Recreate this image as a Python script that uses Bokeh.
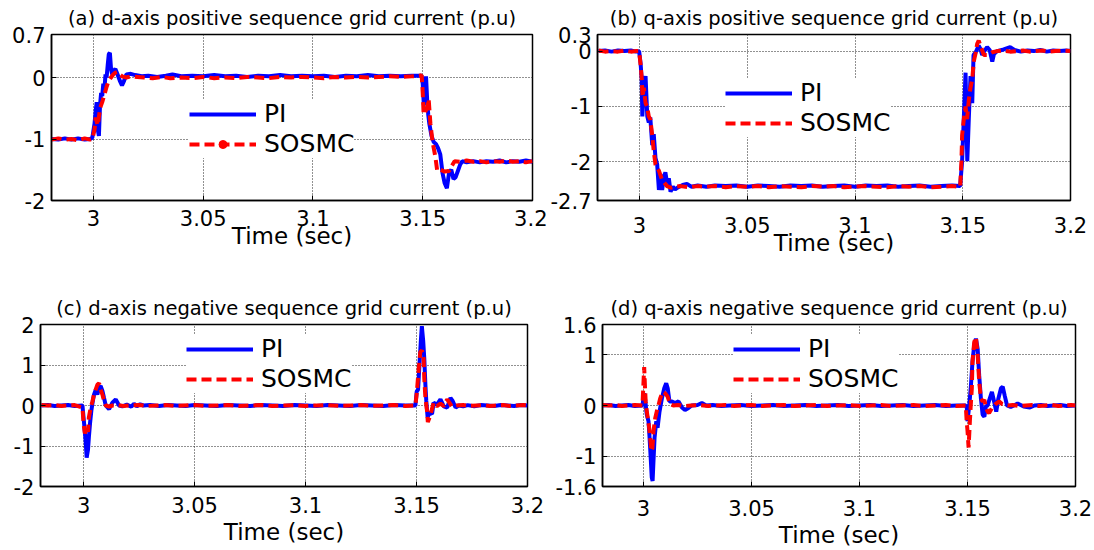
from bokeh.plotting import figure
from bokeh.layouts import column, row
from bokeh.models import FixedTicker, Legend, LegendItem, ColumnDataSource, Range1d
from bokeh.embed import file_html
from bokeh.resources import INLINE

FONT = "DejaVu Sans"

X_TICKS = [3.0, 3.05, 3.1, 3.15, 3.2]
X_LABELS = ["3", "3.05", "3.1", "3.15", "3.2"]

# (a) d-axis positive sequence grid current: (time, value)
PI_A = [
    (2.981, -1.00), (2.984, -1.01), (2.987, -0.99), (2.990, -1.01), (2.993, -0.99), (2.996, -1.01),
    (2.9985, -1.00), (2.9995, -0.98),
    (3.0005, -0.75), (3.0010, -0.55), (3.0015, -0.40), (3.0020, -0.85), (3.0025, -0.95), (3.0030, -0.45),
    (3.0035, -0.25), (3.0040, -0.30), (3.0045, -0.10), (3.0050, -0.20), (3.0055, 0.05), (3.0060, 0.00),
    (3.0065, 0.20), (3.0070, 0.38), (3.0075, 0.40), (3.0080, 0.15), (3.0085, 0.05), (3.0090, 0.10),
    (3.0100, 0.14), (3.0110, 0.05), (3.0120, -0.05), (3.0130, -0.13), (3.0140, -0.05), (3.0150, 0.05),
    (3.0170, 0.06), (3.0190, 0.04), (3.0220, 0.02), (3.0250, 0.03), (3.0290, 0.01), (3.0330, 0.03),
    (3.0360, 0.05), (3.0400, 0.02), (3.045, 0.03), (3.050, 0.02), (3.055, 0.04), (3.060, 0.02),
    (3.065, 0.03), (3.070, 0.01), (3.075, 0.03), (3.080, 0.02), (3.085, 0.04), (3.090, 0.02),
    (3.095, 0.03), (3.100, 0.02), (3.105, 0.03), (3.110, 0.01), (3.115, 0.03), (3.120, 0.02),
    (3.125, 0.04), (3.130, 0.02), (3.135, 0.03), (3.140, 0.02), (3.145, 0.03), (3.1485, 0.03),
    (3.1495, 0.03), (3.1500, -0.10), (3.1505, -0.45), (3.1510, -0.20), (3.1515, 0.02), (3.1520, -0.35),
    (3.1525, -0.60), (3.1530, -0.75), (3.1540, -0.95), (3.1550, -1.05), (3.1560, -1.08), (3.1570, -1.15),
    (3.1580, -1.25), (3.1590, -1.55), (3.1600, -1.72), (3.1610, -1.80), (3.1620, -1.55), (3.1630, -1.50),
    (3.1640, -1.65), (3.1650, -1.62), (3.1660, -1.52), (3.1670, -1.42), (3.1680, -1.36), (3.1700, -1.38),
    (3.173, -1.36), (3.176, -1.38), (3.179, -1.36), (3.182, -1.37), (3.185, -1.35), (3.188, -1.38),
    (3.191, -1.36), (3.194, -1.37), (3.197, -1.35), (3.200, -1.37),
]
SOSMC_A = [
    (2.981, -1.01), (2.984, -0.99), (2.987, -1.01), (2.990, -1.00), (2.993, -1.02), (2.996, -0.99),
    (2.9985, -1.01), (2.9995, -1.00),
    (3.0005, -0.85), (3.0010, -0.65), (3.0015, -0.72), (3.0020, -0.78), (3.0030, -0.50), (3.0040, -0.40),
    (3.0050, -0.28), (3.0060, -0.15), (3.0070, -0.05), (3.0080, 0.00), (3.0090, 0.05), (3.0100, 0.08),
    (3.0110, 0.09), (3.0120, 0.05), (3.0130, 0.02), (3.0150, 0.00), (3.0170, 0.02), (3.0200, 0.01),
    (3.023, 0.00), (3.027, -0.01), (3.031, 0.01), (3.035, -0.01), (3.040, 0.00), (3.045, -0.01),
    (3.050, 0.01), (3.055, -0.01), (3.060, 0.00), (3.065, -0.01), (3.070, 0.01), (3.075, 0.00),
    (3.080, -0.01), (3.085, 0.01), (3.090, 0.00), (3.095, 0.01), (3.100, 0.00), (3.105, -0.01),
    (3.110, 0.01), (3.115, 0.00), (3.120, 0.01), (3.125, 0.00), (3.130, 0.01), (3.135, 0.02),
    (3.140, 0.01), (3.145, 0.02), (3.1485, 0.03),
    (3.1495, 0.04), (3.1500, -0.25), (3.1504, -0.60), (3.1520, -0.50), (3.1527, -0.35), (3.1535, -0.75),
    (3.1545, -1.05), (3.1558, -1.30), (3.1566, -1.52), (3.1580, -1.50), (3.1600, -1.53), (3.1620, -1.52),
    (3.1630, -1.45), (3.1645, -1.36), (3.1670, -1.37), (3.170, -1.35), (3.173, -1.37), (3.176, -1.36),
    (3.179, -1.38), (3.182, -1.36), (3.185, -1.37), (3.188, -1.35), (3.191, -1.37), (3.194, -1.36),
    (3.197, -1.38), (3.200, -1.36),
]

# (b) q-axis positive sequence grid current
PI_B = [
    (2.981, 0.00), (2.984, 0.01), (2.987, -0.01), (2.990, 0.01), (2.993, 0.00), (2.996, 0.01),
    (2.9985, -0.01), (2.9998, 0.00),
    (3.0005, -0.22), (3.0010, -0.50), (3.0013, -1.18), (3.0020, -0.70), (3.0028, -0.45), (3.0036, -1.18),
    (3.0043, -1.29), (3.0050, -1.20), (3.0059, -1.70), (3.0066, -1.50), (3.0074, -1.93), (3.0082, -2.05),
    (3.0090, -2.51), (3.0097, -2.22), (3.0105, -2.51), (3.0112, -2.30), (3.0120, -2.19), (3.0128, -2.39),
    (3.0136, -2.30), (3.0144, -2.54), (3.0155, -2.45), (3.0165, -2.50), (3.0180, -2.46), (3.0200, -2.42),
    (3.0220, -2.40), (3.0240, -2.45), (3.027, -2.43), (3.031, -2.45), (3.035, -2.43), (3.040, -2.44),
    (3.045, -2.43), (3.050, -2.45), (3.055, -2.43), (3.060, -2.44), (3.065, -2.45), (3.070, -2.43),
    (3.075, -2.44), (3.080, -2.43), (3.085, -2.45), (3.090, -2.44), (3.095, -2.43), (3.100, -2.45),
    (3.105, -2.43), (3.110, -2.44), (3.115, -2.43), (3.120, -2.45), (3.125, -2.44), (3.130, -2.43),
    (3.135, -2.45), (3.140, -2.44), (3.145, -2.43), (3.1488, -2.44),
    (3.1497, -1.99), (3.1505, -1.20), (3.1513, -0.39), (3.1521, -1.99), (3.1528, -1.23), (3.1536, -0.45),
    (3.1544, -0.94), (3.1550, -0.07), (3.1560, -0.02), (3.1574, 0.10), (3.1582, 0.04), (3.1590, -0.07),
    (3.1600, 0.00), (3.1613, 0.07), (3.1625, 0.02), (3.1637, -0.19), (3.1645, -0.05), (3.1660, 0.00),
    (3.1690, 0.03), (3.1720, 0.07), (3.1740, 0.02), (3.177, -0.01), (3.180, 0.01), (3.183, 0.00),
    (3.186, 0.02), (3.189, -0.01), (3.192, 0.01), (3.195, 0.00), (3.198, 0.01), (3.200, 0.00),
]
SOSMC_B = [
    (2.981, 0.01), (2.984, -0.01), (2.987, 0.00), (2.990, -0.01), (2.993, 0.01), (2.996, -0.01),
    (2.9985, 0.00), (2.9998, 0.00),
    (3.0005, -0.25), (3.0010, -0.48), (3.0014, -0.83), (3.0020, -0.66), (3.0028, -0.94), (3.0035, -1.00),
    (3.0043, -1.18), (3.0050, -1.23), (3.0059, -1.52), (3.0066, -1.81), (3.0074, -2.05), (3.0090, -2.16),
    (3.0105, -2.33), (3.0128, -2.44), (3.0145, -2.47), (3.0165, -2.45), (3.019, -2.44), (3.023, -2.46),
    (3.027, -2.44), (3.031, -2.45), (3.035, -2.44), (3.040, -2.46), (3.045, -2.44), (3.050, -2.45),
    (3.055, -2.44), (3.060, -2.46), (3.065, -2.44), (3.070, -2.45), (3.075, -2.46), (3.080, -2.44),
    (3.085, -2.45), (3.090, -2.44), (3.095, -2.46), (3.100, -2.45), (3.105, -2.44), (3.110, -2.45),
    (3.115, -2.46), (3.120, -2.44), (3.125, -2.45), (3.130, -2.44), (3.135, -2.46), (3.140, -2.45),
    (3.145, -2.44), (3.1488, -2.45),
    (3.1494, -1.98), (3.1497, -1.52), (3.1505, -1.23), (3.1513, -1.00), (3.1520, -1.23), (3.1528, -0.89),
    (3.1536, -0.66), (3.1544, -0.51), (3.1551, -0.19), (3.1559, -0.05), (3.1567, 0.13), (3.1574, 0.19),
    (3.1582, 0.10), (3.1598, -0.07), (3.1613, -0.07), (3.1637, -0.02), (3.166, 0.00), (3.169, 0.01),
    (3.172, -0.01), (3.175, 0.00), (3.178, 0.01), (3.181, -0.01), (3.184, 0.00), (3.187, 0.01),
    (3.190, -0.01), (3.193, 0.00), (3.196, 0.01), (3.200, 0.00),
]

# (c) d-axis negative sequence grid current
PI_C = [
    (2.981, 0.00), (2.984, 0.01), (2.987, -0.01), (2.990, 0.00), (2.993, 0.01), (2.996, -0.01),
    (2.9995, 0.00),
    (3.0000, -0.30), (3.0005, -0.60), (3.0010, -0.93), (3.0014, -1.29), (3.0020, -1.09), (3.0024, -0.78),
    (3.0029, -0.45), (3.0035, -0.13), (3.0042, 0.12), (3.0047, 0.27), (3.0055, 0.39), (3.0062, 0.27),
    (3.0070, 0.43), (3.0077, 0.48), (3.0085, 0.36), (3.0092, 0.19), (3.0100, 0.00), (3.0115, -0.09),
    (3.0130, 0.07), (3.0145, 0.15), (3.0160, 0.00), (3.0175, -0.02), (3.0195, 0.02), (3.0215, -0.03),
    (3.0227, 0.04), (3.0240, -0.02), (3.0255, 0.03), (3.027, 0.00), (3.030, 0.01), (3.034, -0.01),
    (3.038, 0.01), (3.042, 0.00), (3.046, -0.01), (3.050, 0.01), (3.055, 0.00), (3.060, -0.01),
    (3.065, 0.01), (3.070, 0.00), (3.075, -0.01), (3.080, 0.01), (3.085, 0.00), (3.090, -0.01),
    (3.095, 0.01), (3.100, 0.00), (3.105, -0.01), (3.110, 0.01), (3.115, 0.00), (3.120, -0.01),
    (3.125, 0.01), (3.130, 0.00), (3.135, -0.01), (3.140, 0.01), (3.145, 0.00), (3.1495, 0.00),
    (3.1501, 0.35), (3.1507, 0.39), (3.1514, 1.08), (3.1520, 1.64), (3.1524, 1.96), (3.1530, 1.60),
    (3.1535, 1.16), (3.1540, 0.51), (3.1544, 0.12), (3.1550, -0.29), (3.1559, -0.17), (3.1570, -0.21),
    (3.1577, 0.07), (3.1592, 0.02), (3.1608, 0.15), (3.1623, -0.02), (3.1638, -0.05), (3.1653, 0.19),
    (3.1662, 0.12), (3.1676, -0.05), (3.1690, 0.00), (3.1710, -0.02), (3.1730, 0.01), (3.176, -0.02),
    (3.179, 0.01), (3.182, 0.00), (3.185, -0.01), (3.188, 0.01), (3.191, 0.00), (3.194, -0.01),
    (3.197, 0.01), (3.200, 0.00),
]
SOSMC_C = [
    (2.981, 0.01), (2.984, 0.00), (2.987, 0.01), (2.990, -0.01), (2.993, 0.00), (2.996, 0.01),
    (2.9995, -0.05),
    (3.0000, -0.45), (3.0006, -0.69), (3.0013, -0.55), (3.0020, -0.65), (3.0024, -0.29), (3.0032, -0.05),
    (3.0040, 0.10), (3.0047, 0.27), (3.0062, 0.51), (3.0070, 0.55), (3.0077, 0.39), (3.0085, 0.27),
    (3.0092, 0.12), (3.0100, 0.00), (3.0115, -0.03), (3.0130, 0.00), (3.015, 0.01), (3.018, -0.01),
    (3.021, 0.00), (3.025, 0.01), (3.029, -0.01), (3.033, 0.00), (3.037, 0.01), (3.041, -0.01),
    (3.045, 0.00), (3.050, 0.01), (3.055, -0.01), (3.060, 0.00), (3.065, 0.01), (3.070, -0.01),
    (3.075, 0.00), (3.080, 0.01), (3.085, -0.01), (3.090, 0.00), (3.095, 0.01), (3.100, -0.01),
    (3.105, 0.00), (3.110, 0.01), (3.115, -0.01), (3.120, 0.00), (3.125, 0.01), (3.130, -0.01),
    (3.135, 0.00), (3.140, 0.01), (3.145, -0.01), (3.1495, 0.00),
    (3.1501, 0.30), (3.1510, 0.92), (3.1517, 1.32), (3.1524, 1.36), (3.1532, 1.16), (3.1535, 0.67),
    (3.1540, 0.19), (3.1547, -0.12), (3.1551, -0.41), (3.1559, -0.29), (3.1568, -0.12), (3.1577, 0.07),
    (3.1592, -0.02), (3.1608, 0.05), (3.1623, -0.02), (3.1638, 0.15), (3.1648, 0.07), (3.1660, -0.03),
    (3.1680, 0.00), (3.171, 0.01), (3.174, -0.01), (3.177, 0.00), (3.180, 0.01), (3.183, -0.01),
    (3.186, 0.00), (3.189, 0.01), (3.192, -0.01), (3.195, 0.00), (3.198, 0.01), (3.200, 0.00),
]

# (d) q-axis negative sequence grid current
PI_D = [
    (2.981, 0.00), (2.984, 0.01), (2.987, -0.01), (2.990, 0.00), (2.993, 0.01), (2.996, -0.01),
    (2.9995, 0.00),
    (3.0003, 0.24), (3.0008, 0.10), (3.0015, -0.18), (3.0023, -0.31), (3.0028, -0.64), (3.0034, -1.10),
    (3.0038, -1.42), (3.0042, -1.49), (3.0046, -1.10), (3.0051, -0.64), (3.0059, -0.31), (3.0065, -0.44),
    (3.0074, -0.12), (3.0085, 0.14), (3.0096, 0.34), (3.0105, 0.44), (3.0112, 0.34), (3.0120, 0.08),
    (3.0132, 0.08), (3.0146, 0.05), (3.0162, 0.08), (3.0178, -0.04), (3.0192, -0.09), (3.0208, -0.05),
    (3.0223, 0.00), (3.0250, 0.01), (3.0270, 0.05), (3.029, 0.00), (3.032, 0.01), (3.036, -0.01),
    (3.040, 0.00), (3.045, 0.01), (3.050, -0.01), (3.055, 0.00), (3.060, 0.01), (3.065, -0.01),
    (3.070, 0.00), (3.075, 0.01), (3.080, -0.01), (3.085, 0.00), (3.090, 0.01), (3.095, -0.01),
    (3.100, 0.00), (3.105, 0.01), (3.110, -0.01), (3.115, 0.00), (3.120, 0.01), (3.125, -0.01),
    (3.130, 0.00), (3.135, 0.01), (3.140, -0.01), (3.145, 0.00), (3.1492, 0.00),
    (3.1497, -0.05), (3.1500, -0.31), (3.1508, 0.00), (3.1515, 0.34), (3.1523, 0.86), (3.1531, 1.19),
    (3.1539, 1.32), (3.1547, 1.12), (3.1554, 0.60), (3.1562, 0.14), (3.1570, -0.18), (3.1578, -0.22),
    (3.1585, -0.02), (3.1593, 0.00), (3.1601, 0.11), (3.1613, 0.27), (3.1623, 0.08), (3.1633, -0.12),
    (3.1643, 0.14), (3.1655, 0.34), (3.1663, 0.37), (3.1672, 0.20), (3.1683, 0.00), (3.1700, -0.03),
    (3.1715, 0.00), (3.1732, 0.04), (3.1760, -0.02), (3.1789, -0.04), (3.1810, 0.00), (3.184, 0.01),
    (3.187, -0.01), (3.190, 0.00), (3.193, 0.01), (3.196, -0.01), (3.200, 0.00),
]
SOSMC_D = [
    (2.981, 0.01), (2.984, 0.00), (2.987, 0.01), (2.990, -0.01), (2.993, 0.00), (2.996, 0.01),
    (2.9995, 0.00),
    (3.0003, 0.76), (3.0007, 0.34), (3.0010, 0.08), (3.0013, -0.05), (3.0026, -0.44), (3.0031, -0.64),
    (3.0036, -0.90), (3.0041, -0.84), (3.0046, -0.51), (3.0054, -0.25), (3.0061, -0.12), (3.0069, 0.00),
    (3.0077, 0.14), (3.0089, 0.27), (3.0100, 0.24), (3.0111, 0.18), (3.0123, 0.03), (3.0138, 0.00),
    (3.016, 0.01), (3.019, -0.01), (3.022, 0.00), (3.026, 0.01), (3.030, -0.01), (3.034, 0.00),
    (3.038, 0.01), (3.042, -0.01), (3.046, 0.00), (3.050, 0.01), (3.055, -0.01), (3.060, 0.00),
    (3.065, 0.01), (3.070, -0.01), (3.075, 0.00), (3.080, 0.01), (3.085, -0.01), (3.090, 0.00),
    (3.095, 0.01), (3.100, -0.01), (3.105, 0.00), (3.110, 0.01), (3.115, -0.01), (3.120, 0.00),
    (3.125, 0.01), (3.130, -0.01), (3.135, 0.00), (3.140, 0.01), (3.145, -0.01), (3.1492, 0.00),
    (3.1496, -0.31), (3.1500, -0.50), (3.1505, -0.83), (3.1508, -0.57), (3.1511, -0.31), (3.1515, 0.00),
    (3.1520, 0.34), (3.1523, 0.86), (3.1531, 1.25), (3.1539, 1.35), (3.1547, 1.00), (3.1554, 0.47),
    (3.1562, 0.14), (3.1570, 0.08), (3.1578, 0.11), (3.1585, -0.03), (3.1593, -0.12), (3.1600, -0.15),
    (3.1608, -0.09), (3.1616, -0.03), (3.1630, 0.03), (3.1647, 0.08), (3.1660, 0.03), (3.1686, 0.00),
    (3.171, 0.01), (3.174, -0.01), (3.177, 0.00), (3.180, 0.01), (3.183, -0.01), (3.186, 0.00),
    (3.189, 0.01), (3.192, -0.01), (3.195, 0.00), (3.198, 0.01), (3.200, 0.00),
]

Y_TICKS_A, Y_LABELS_A = [-2, -1, 0, 0.7], ["-2", "-1", "0", "0.7"]
Y_TICKS_B, Y_LABELS_B = [-2.7, -2, -1, 0, 0.3], ["-2.7", "-2", "-1", "0", "0.3"]
Y_TICKS_C, Y_LABELS_C = [-2, -1, 0, 1, 2], ["-2", "-1", "0", "1", "2"]
Y_TICKS_D, Y_LABELS_D = [-1.6, -1, 0, 1, 1.6], ["-1.6", "-1", "0", "1", "1.6"]


def src(pairs):
    return ColumnDataSource(dict(t=[p[0] for p in pairs], v=[p[1] for p in pairs]))


def panel(title, pi, smc, yticks, ylabels, x0, y0, y1, w, h, borders, xstand, lstand, leg_loc, dot=False):
    left, right, top, bottom = borders
    p = figure(width=w, height=h, output_backend="svg", toolbar_location=None,
               x_range=Range1d(x0, 3.2), y_range=Range1d(y0, y1),
               min_border_left=left, min_border_right=right,
               min_border_top=top, min_border_bottom=bottom,
               background_fill_color="white", border_fill_color="white")
    p.title.text = title
    p.title.align = "center"
    p.title.text_font = FONT
    p.title.text_font_size = "19.5px"
    p.title.text_font_style = "normal"
    p.title.text_color = "black"
    p.title.standoff = 9

    p.outline_line_color = "black"
    p.outline_line_width = 1.5

    for ax, ticks, labels in ((p.xaxis[0], X_TICKS, X_LABELS), (p.yaxis[0], yticks, ylabels)):
        ax.ticker = FixedTicker(ticks=ticks)
        ax.major_label_overrides = {t: s for t, s in zip(ticks, labels)}
        ax.major_label_text_font = FONT
        ax.major_label_text_font_size = "21px"
        ax.major_label_text_line_height = 1.0
        ax.major_label_text_color = "black"
        ax.major_tick_in = 5
        ax.major_tick_out = 0
        ax.minor_tick_line_color = None
        ax.axis_line_color = "black"
        ax.axis_line_width = 1.5
        ax.major_tick_line_color = "black"
    p.yaxis.major_label_standoff = 6
    p.xaxis.major_label_standoff = xstand
    p.xaxis.axis_label = "Time (sec)"
    p.xaxis.axis_label_text_font = FONT
    p.xaxis.axis_label_text_font_size = "23px"
    p.xaxis.axis_label_text_line_height = 1.0
    p.xaxis.axis_label_text_font_style = "normal"
    p.xaxis.axis_label_text_color = "black"
    p.xaxis.axis_label_standoff = lstand

    for g in (p.xgrid[0], p.ygrid[0]):
        g.grid_line_color = "#222222"
        g.grid_line_dash = "1 2"
        g.grid_line_width = 1

    r_pi = p.line("t", "v", source=src(pi), color="#0000FF", line_width=4)
    r_smc = p.line("t", "v", source=src(smc), color="#FF0000", line_width=4, line_dash="10 5")
    smc_renderers = [r_smc]
    if dot:
        # legend-only marker: one undefined point, never drawn inside the frame
        r_dot = p.scatter(x=[float("nan")], y=[float("nan")], marker="circle", size=10, color="#FF0000")
        smc_renderers.append(r_dot)

    legend = Legend(items=[LegendItem(label="PI", renderers=[r_pi]),
                           LegendItem(label="SOSMC", renderers=smc_renderers)],
                    location=leg_loc, margin=0, padding=6, spacing=1,
                    glyph_width=67, glyph_height=20, label_standoff=8,
                    label_text_font=FONT, label_text_font_size="25px", label_text_color="black",
                    border_line_color=None, background_fill_color="white",
                    background_fill_alpha=1.0)
    p.add_layout(legend)
    return p


pa = panel("(a) d-axis positive sequence grid current (p.u)", PI_A, SOSMC_A, Y_TICKS_A, Y_LABELS_A,
           2.9809, -2, 0.7, 547, 275, (51, 15, 33, 75), 9, -6, (138, 42), dot=True)
pb = panel("(b) q-axis positive sequence grid current (p.u)", PI_B, SOSMC_B, Y_TICKS_B, Y_LABELS_B,
           2.9805, -2.7, 0.3, 547, 275, (50, 24, 32, 70), 16, -6, (128, 63))
pc = panel("(c) d-axis negative sequence grid current (p.u)", PI_C, SOSMC_C, Y_TICKS_C, Y_LABELS_C,
           2.9806, -2, 2, 547, 275, (40, 20, 49, 58), 10, 3, (146, 93))
pd = panel("(d) q-axis negative sequence grid current (p.u)", PI_D, SOSMC_D, Y_TICKS_D, Y_LABELS_D,
           2.9810, -1.6, 1.6, 547, 275, (55, 19, 48, 63), 13, 3, (131, 93))

layout = column(row(pa, pb, spacing=0), row(pc, pd, spacing=0), spacing=0)
open("out.html", "w").write(file_html(layout, INLINE))
